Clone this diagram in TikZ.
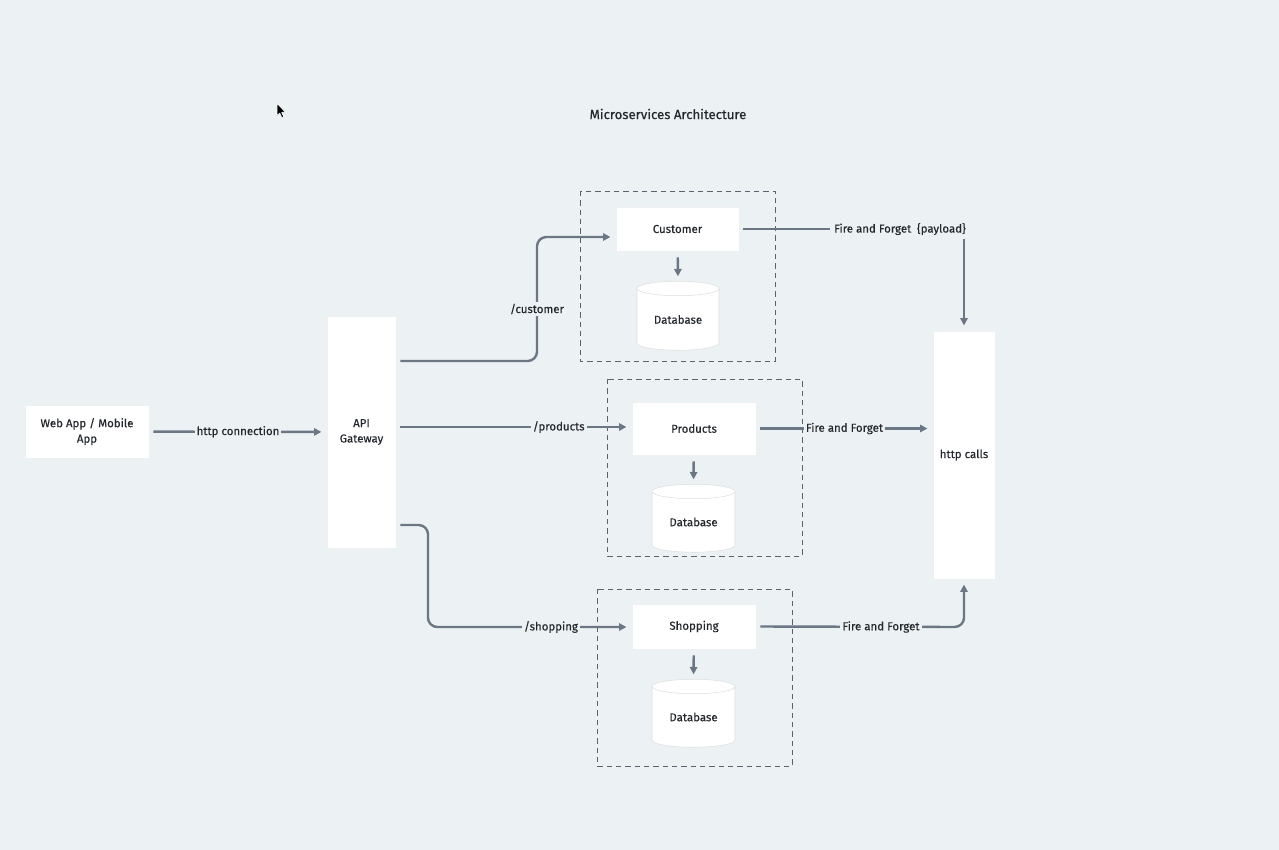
\documentclass[tikz,border=0pt]{standalone}
\usepackage{fontspec}
\setmainfont{Fira Sans}[FakeBold=0.35]
\usetikzlibrary{arrows.meta,shapes.geometric}
\definecolor{bgcol}{HTML}{ECF1F4}
\definecolor{linecol}{HTML}{6B7784}
\definecolor{framecol}{HTML}{5A646E}
\definecolor{txtcol}{HTML}{24282D}
\begin{document}
\begin{tikzpicture}[x=0.75pt,y=-0.75pt,
  every node/.style={text=txtcol,font=\fontsize{8.6}{11.6}\selectfont},
  box/.style={fill=white,draw=black!6,line width=0.4pt,align=center,inner sep=2pt},
  db/.style={shape=cylinder,shape border rotate=90,aspect=0.3,fill=white,draw=black!13,
    line width=0.4pt,inner sep=0pt},
  group/.style={draw=framecol,line width=0.75pt,dash pattern=on 4pt off 3pt},
  conn/.style={draw=linecol,line width=1.8pt,-{Triangle[length=5.5pt,width=5.5pt]},
    shorten <=3pt,shorten >=4pt},
  lbl/.style={fill=bgcol,inner sep=1.5pt},
]
% canvas
\fill[bgcol] (0,0) rectangle (1279,850);
\useasboundingbox (0,0) rectangle (1279,850);

% title
\node (title) at (668,114) {\fontsize{9.9}{12}\selectfont Microservices Architecture};

% pointer
\filldraw[fill=black,draw=white,line width=0.4pt,line join=round]
  (277,103.5) -- (277,115.5) -- (279.8,113) -- (281.8,117.6) -- (283.6,116.8)
  -- (281.6,112.3) -- (285.4,112.1) -- cycle;

% service groups
\draw[group] (580,191) rectangle (775,361);
\draw[group] (607,379) rectangle (802,556);
\draw[group] (597,589) rectangle (792,766);

% blocks
\node[box,minimum width=93pt,minimum height=39.75pt] (client) at (87,431.5) {Web App / Mobile\\App};
\node[box,minimum width=51.75pt,minimum height=174pt] (api) at (361.5,432) {API\\Gateway};
\node[box,minimum width=92.25pt,minimum height=33pt] (cust) at (677.5,229) {Customer};
\node[box,minimum width=93pt,minimum height=39.75pt] (prod) at (694,428.5) {Products};
\node[box,minimum width=93pt,minimum height=33.75pt] (shop) at (694,626.5) {Shopping};
\node[box,minimum width=46.5pt,minimum height=186pt] (http) at (964,455) {http calls};

\node[db,minimum width=61.5pt,minimum height=51.75pt] (custdb) at (678,319.5) {Database};
\node[db,minimum width=62.25pt,minimum height=51pt] (proddb) at (693.5,522) {Database};
\node[db,minimum width=62.25pt,minimum height=51pt] (shopdb) at (693.5,717) {Database};

% client to gateway
\draw[conn] (client) -- node[lbl] {http connection} (api);

% gateway routes
\draw[conn,rounded corners=7pt] (api.east |- 0,361) -- (537,361) -- (537,237) -- (cust.west |- 0,237);
\node[lbl] (custlbl) at (537,309) {/customer};
\draw[conn] (api.east |- 0,427) -- node[lbl,pos=0.69] {/products} (prod.west |- 0,427);
\draw[conn,rounded corners=7pt] (api.east |- 0,525) -- (428,525) -- (428,627) -- (shop.west |- 0,627);
\node[lbl] (shoplbl) at (551,627) {/shopping};

% service to database
\draw[conn,shorten <=4.5pt,shorten >=3.5pt] (cust) -- (custdb.north);
\draw[conn,shorten <=4.5pt,shorten >=3.5pt] (prod) -- (proddb.north);
\draw[conn,shorten <=4.5pt,shorten >=3.5pt] (shop) -- (shopdb.north);

% services to http calls
\draw[conn] (cust.east) -| (http.north);
\node[lbl,inner sep=3pt] (custff) at (900,229) {Fire and Forget\hspace{0.5em}\{payload\}};
\draw[conn] (prod) -- node[lbl,pos=0.5] {Fire and Forget} (http.west |- prod);
\draw[conn,rounded corners=7pt] (shop.east) -- (964,627) -- (http.south);
\node[lbl] (shopff) at (881,627) {Fire and Forget};
\end{tikzpicture}
\end{document}
